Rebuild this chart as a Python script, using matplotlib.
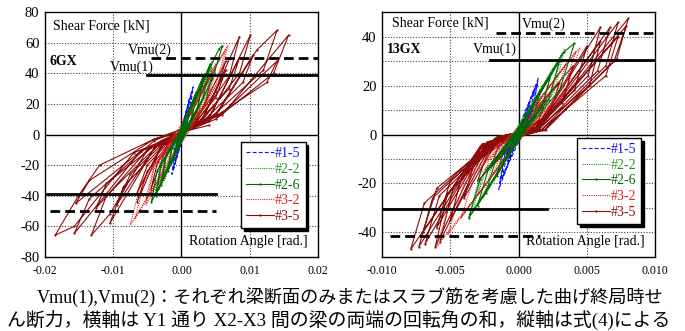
import matplotlib
matplotlib.use('Agg')
import matplotlib.pyplot as plt

# Latin text in a Times-like face, Japanese falls back to Noto CJK
plt.rcParams['font.family'] = ['Liberation Serif', 'Noto Sans CJK JP']
plt.rcParams['axes.unicode_minus'] = False

# ---------------------------------------------------------------- data
SERIES_LABELS = ['#1-5', '#2-2', '#2-6', '#3-2', '#3-5']

# 6GX: hysteresis paths, (rotation [rad], shear force [kN])
GX6_15 = [(0, 0), (0.0004, 8), (0.0002, 3), (-0.0003, -6), (-0.0001, -1),
          (0.0008, 16), (0.0005, 7), (-0.0006, -12), (-0.0003, -3),
          (0.0012, 24), (0.0008, 10), (-0.0009, -18), (-0.0006, -6),
          (0.0015, 28), (0.001, 12), (-0.0012, -23), (-0.0008, -8),
          (0.0017, 31), (0.0012, 14), (-0.0014, -26), (-0.001, -9), (0.0002, 4)]
GX6_22 = [(0, 0), (0.001, 14), (0.0006, 5), (-0.0008, -12), (-0.0004, -3),
          (0.002, 26), (0.0014, 10), (-0.0015, -20), (-0.001, -7),
          (0.003, 36), (0.0022, 16), (0.0003, 2), (-0.0025, -30), (-0.0018, -12), (-0.0003, -1),
          (0.004, 44), (0.003, 22), (0.0005, 3), (-0.0033, -36), (-0.0025, -16), (-0.0004, -1),
          (0.0045, 48), (0.0036, 26), (0.0006, 3), (-0.0038, -40), (-0.003, -20), (-0.0005, -1),
          (0.0045, 44), (0.0036, 24), (0.0006, 3), (-0.0038, -37), (-0.003, -18), (0.0002, 2)]
GX6_26 = [(0, 0), (0.0012, 16), (0.0008, 6), (-0.001, -13), (-0.0006, -4),
          (0.0022, 28), (0.0016, 12), (-0.002, -24), (-0.0014, -9),
          (0.0032, 38), (0.0024, 18), (0.0004, 2), (-0.003, -33), (-0.0022, -14), (-0.0004, -1),
          (0.0042, 46), (0.0032, 24), (0.0006, 3), (-0.0038, -40), (-0.003, -20), (-0.0006, -2),
          (0.0038, 40), (0.0055, 56), (0.006, 58), (0.0045, 36), (0.001, 4),
          (-0.0044, -44), (-0.0036, -24), (-0.0008, -2), (0.0008, 5)]
GX6_32 = [(0, 0), (0.001, 12), (0.0006, 4), (-0.001, -12), (-0.0006, -4),
          (0.002, 24), (0.0014, 9), (0.0002, 1), (-0.002, -22), (-0.0014, -8), (-0.0002, 0),
          (0.0035, 36), (0.0026, 16), (0.0005, 2), (-0.0035, -34), (-0.0026, -14), (-0.0005, -1),
          (0.005, 46), (0.0038, 24), (0.0008, 3), (-0.0052, -46), (-0.004, -22), (-0.0008, -2),
          (0.005, 42), (0.0038, 22), (0.0008, 3), (-0.0052, -42), (-0.004, -20), (-0.0008, -1),
          (0.0065, 56), (0.005, 32), (0.0012, 4), (-0.0068, -55), (-0.0054, -30), (-0.0012, -2),
          (0.0068, 58), (0.0054, 34), (0.0014, 4), (-0.0075, -59), (-0.006, -32), (-0.0014, -2),
          (0.001, 5)]
GX6_35 = [(0, 0), (0.001, 14), (0.0006, 5), (-0.0002, -1), (-0.001, -13), (-0.0006, -4), (0.0002, 2),
          (0.002, 24), (0.0014, 10), (0.0002, 0), (-0.002, -22), (-0.0014, -8), (-0.0002, 1),
          (0.003, 32), (0.0022, 14), (0.0004, 2), (-0.003, -30), (-0.0022, -12), (-0.0004, -1),
          (0.0045, 40), (0.0035, 20), (0.001, 4), (-0.002, -6), (-0.0045, -36), (-0.0035, -18),
          (-0.001, -3), (0.002, 8),
          (0.0065, 48), (0.005, 28), (0.0015, 6), (-0.003, -8), (-0.0065, -44), (-0.005, -24),
          (-0.0015, -4), (0.003, 10),
          (0.0065, 42), (0.005, 24), (0.0015, 5), (-0.003, -8), (-0.0065, -38), (-0.005, -20),
          (-0.0015, -3), (0.003, 9),
          (0.0085, 64), (0.007, 38), (0.002, 7), (-0.004, -9), (-0.0105, -58), (-0.0085, -34),
          (-0.002, -4), (0.004, 11),
          (0.0085, 50), (0.007, 30), (0.002, 6), (-0.004, -9), (-0.0095, -46), (-0.0075, -26),
          (-0.002, -3), (0.004, 10),
          (0.0101, 65), (0.0085, 40), (0.003, 9), (-0.005, -10), (-0.0105, -52), (-0.0132, -65.7),
          (-0.011, -40), (-0.003, -5), (0.005, 13),
          (0.0105, 52), (0.009, 34), (0.003, 8), (-0.005, -10), (-0.0125, -48), (-0.011, -32),
          (-0.003, -4), (0.005, 12),
          (0.011, 55), (0.014, 68), (0.012, 42), (0.004, 10), (-0.006, -11), (-0.0157, -64.6),
          (-0.0135, -42), (-0.004, -4), (0.006, 14),
          (0.014, 48), (0.0125, 34), (0.004, 9), (-0.006, -11), (-0.0155, -45), (-0.0135, -30),
          (-0.004, -3), (0.006, 13),
          (0.0157, 65), (0.0135, 40), (0.005, 10), (-0.007, -12), (-0.0157, -60), (-0.0185, -65.7),
          (-0.0151, -40), (-0.012, -20), (-0.004, -3), (0.004, 6)]

# 13GX
GX13_15 = [(0, 0), (0.0004, 6), (0.0002, 2), (-0.0004, -6), (-0.0002, -2),
           (0.0008, 12), (0.0005, 5), (-0.0008, -11), (-0.0005, -4),
           (0.0012, 19), (0.0008, 8), (0.0001, 1), (-0.0012, -18), (-0.0008, -7), (-0.0001, 0),
           (0.00145, 23), (0.001, 10), (0.0001, 1), (-0.00145, -22.5), (-0.001, -9), (-0.0001, 0),
           (0.0014, 21), (0.001, 9), (-0.0014, -20), (-0.001, -8), (0.0001, 1)]
GX13_22 = [(0, 0), (0.0006, 7), (0.0003, 2), (-0.0006, -6), (-0.0003, -2),
           (0.0012, 14), (0.0008, 5), (-0.0012, -13), (-0.0008, -5),
           (0.0018, 20), (0.0012, 8), (0.0002, 1), (-0.0018, -19), (-0.0012, -8), (-0.0002, 0),
           (0.0025, 27), (0.0018, 12), (0.0003, 1), (-0.0026, -26), (-0.0019, -12), (-0.0003, 0),
           (0.0032, 33), (0.0024, 16), (0.0004, 2), (-0.0034, -32), (-0.0026, -16), (-0.0004, 0),
           (0.0034, 35), (0.0026, 17), (0.0005, 2), (-0.0036, -33), (-0.0028, -16), (0.0002, 1)]
GX13_26 = [(0, 0), (0.0008, 10), (0.0005, 4), (-0.0008, -9), (-0.0005, -3),
           (0.0016, 18), (0.0011, 7), (0.0001, 1), (-0.0016, -17), (-0.0011, -7), (-0.0001, 0),
           (0.0024, 25), (0.0017, 11), (0.0002, 1), (-0.0024, -24), (-0.0017, -11), (-0.0002, 0),
           (0.003, 30), (0.0022, 14), (0.0003, 1), (-0.003, -29), (-0.0022, -14), (-0.0003, 0),
           (0.0033, 33.5), (0.0041, 37.3), (0.003, 18), (0.0004, 1), (-0.00365, -34.2),
           (-0.0028, -18), (-0.0004, 0), (0.0004, 2)]
GX13_32 = [(0, 0), (0.0008, 8), (0.0005, 3), (-0.0008, -8), (-0.0005, -3),
           (0.0016, 15), (0.0011, 6), (0.0001, 0), (-0.0018, -16), (-0.0012, -6), (-0.0001, 0),
           (0.0026, 22), (0.0019, 10), (0.0003, 1), (-0.003, -25), (-0.0022, -11), (-0.0003, 0),
           (0.0035, 29), (0.0026, 14), (0.0004, 1), (-0.0042, -34), (-0.0032, -16), (-0.0004, 0),
           (0.0042, 34), (0.0032, 17), (0.0005, 1), (-0.0052, -41), (-0.004, -20), (-0.0005, 0),
           (0.0045, 35.5), (0.0035, 18), (0.0006, 1), (-0.006, -45.8), (-0.0047, -22),
           (-0.0006, 0), (0.0005, 2)]
GX13_35 = [(0, 0), (0.001, 7), (0.0007, 3), (-0.001, -7), (-0.0007, -3), (0, 0),
           (0.002, 14), (0.0015, 6), (0.0003, 1), (-0.002, -13), (-0.0015, -5), (-0.0003, -0.5),
           (0.003, 21), (0.0023, 9), (0.0005, 1), (-0.003, -19), (-0.0023, -8), (-0.0005, -0.5),
           (0.004, 28), (0.0032, 13), (0.0008, 2), (-0.0015, -2), (-0.004, -26), (-0.0032, -11),
           (-0.0008, -1), (0.0012, 2),
           (0.005, 36), (0.0041, 18), (0.001, 2), (-0.0018, -2), (-0.005, -35), (-0.0041, -16),
           (-0.001, -1), (0.0013, 2),
           (0.006, 43.7), (0.0051, 24), (0.0013, 2), (-0.0022, -3), (-0.00575, -43.7), (-0.0048, -22),
           (-0.0012, -1), (0.0014, 3),
           (0.006, 38), (0.0052, 20), (0.0013, 2), (-0.0023, -3), (-0.006, -38), (-0.005, -19),
           (-0.0012, -1), (0.0014, 3),
           (0.0067, 43.7), (0.0058, 26), (0.0015, 2), (-0.0025, -4), (-0.0061, -45.8), (-0.0052, -24),
           (-0.0013, -1), (0.0015, 3),
           (0.0073, 45.8), (0.0064, 28), (0.0017, 2), (-0.0026, -4), (-0.00685, -44.7), (-0.0058, -25),
           (-0.0014, -1), (0.0015, 3),
           (0.0073, 40), (0.0064, 24), (0.0017, 2), (-0.0027, -4), (-0.007, -40), (-0.006, -22),
           (-0.0014, -1), (0.0015, 3),
           (0.0079, 44.4), (0.007, 30), (0.0019, 2), (-0.0027, -5), (-0.0073, -45.8), (-0.0063, -26),
           (-0.0015, -1), (0.0015, 3),
           (0.00805, 47.4), (0.0072, 31), (0.002, 2), (-0.0028, -5), (-0.0079, -46.9), (-0.0069, -28),
           (-0.0016, -1), (0.0012, 2)]

# Vmu(1) solid / Vmu(2) dashed: level [kN], (x from, x to) for +/- lines
GX6_VMU1 = 39
GX6_VMU1_SPAN = [(-0.005, 0.02), (-0.02, 0.005)]
GX6_VMU2 = 50
GX6_VMU2_SPAN = [(-0.0044, 0.02), (-0.0193, 0.0051)]
GX13_VMU1 = 30.5
GX13_VMU1_SPAN = [(-0.0021, 0.01), (-0.01, 0.00206)]
GX13_VMU2 = 41.3
GX13_VMU2_SPAN = [(-0.00165, 0.01), (-0.0094, 0.00157)]

GX6_XTICKS = [-0.02, -0.01, 0.00, 0.01, 0.02]
GX6_XTICKLABELS = ['-0.02', '-0.01', '0.00', '0.01', '0.02']
GX6_YTICKS = [-80, -60, -40, -20, 0, 20, 40, 60, 80]
GX13_XTICKS = [-0.010, -0.005, 0.000, 0.005, 0.010]
GX13_XTICKLABELS = ['-0.010', '-0.005', '0.000', '0.005', '0.010']
GX13_YTICKS = [-40, -20, 0, 20, 40]
GX13_YGRID = [-40, -30, -20, -10, 10, 20, 30, 40]

CAPTION_1 = 'Vmu(1),Vmu(2)：それぞれ梁断面のみまたはスラブ筋を考慮した曲げ終局時せ'
CAPTION_2 = 'ん断力，横軸は Y1 通り X2-X3 間の梁の両端の回転角の和，縦軸は式(4)による'

# ---------------------------------------------------------------- style
COLORS = ['#1010ff', '#1f9a1f', '#006a00', '#e02020', '#8c0c0c']
LINESTYLES = [(0, (3.5, 2)), (0, (1, 1)), '-', (0, (1, 1)), '-']
MARKERS = ['', '', '.', '', '.']
ZORDERS = [3.2, 3.4, 3.6, 3.0, 2.8]


def draw_panel(ax, paths, vmu1, vmu1_span, vmu2, vmu2_span, xlim, ylim,
               xticks, xticklabels, yticks, ygrid, xgrid, name, text_pos, legend_anchor):
    """Draws one hysteresis panel with its Vmu levels and legend."""
    for path, label, color, ls, mk, z in zip(paths, SERIES_LABELS, COLORS, LINESTYLES, MARKERS, ZORDERS):
        xs = [p[0] for p in path]
        ys = [p[1] for p in path]
        ax.plot(xs, ys, color=color, linestyle=ls, linewidth=0.8, marker=mk, markersize=1.2,
                label=label, zorder=z)

    # Vmu levels (positive and negative)
    for sign, span in zip([1, -1], vmu1_span):
        ax.plot(span, [sign * vmu1, sign * vmu1], color='black', linewidth=2.0, zorder=6)
    for sign, span in zip([1, -1], vmu2_span):
        ax.plot(span, [sign * vmu2, sign * vmu2], color='black', linewidth=2.0,
                dashes=(3.5, 1.8), zorder=6)

    # grid and zero axes
    for gx in xgrid:
        ax.axvline(gx, color='#444444', linestyle=(0, (1, 1.5)), linewidth=0.8, zorder=1)
    for gy in ygrid:
        ax.axhline(gy, color='#444444', linestyle=(0, (1, 1.5)), linewidth=0.8, zorder=1)
    ax.axvline(0, color='black', linewidth=1.0, zorder=1.5)
    ax.axhline(0, color='black', linewidth=1.0, zorder=1.5)

    ax.set_xlim(xlim)
    ax.set_ylim(ylim)
    ax.set_xticks(xticks)
    ax.set_xticklabels(xticklabels)
    ax.set_yticks(yticks)
    ax.tick_params(axis='both', length=0)
    ax.tick_params(axis='x', labelsize=8.5, pad=6)
    ax.tick_params(axis='y', labelsize=10.5, pad=4)
    for spine in ax.spines.values():
        spine.set_linewidth(1.0)

    ax.text(text_pos['sf'][0], text_pos['sf'][1], 'Shear Force [kN]', transform=ax.transAxes,
            fontsize=10, va='center', ha='left')
    ax.text(text_pos['name'][0], text_pos['name'][1], name, transform=ax.transAxes,
            fontsize=10, fontweight='bold', va='center', ha='left')
    ax.text(text_pos['v2'][0], text_pos['v2'][1], 'Vmu(2)', transform=ax.transAxes,
            fontsize=10, va='center', ha='left')
    ax.text(text_pos['v1'][0], text_pos['v1'][1], 'Vmu(1)', transform=ax.transAxes,
            fontsize=10, va='center', ha='left')
    ax.text(0.963, 0.065, 'Rotation Angle [rad.]', transform=ax.transAxes,
            fontsize=10, va='center', ha='right')

    leg = ax.legend(loc='upper left', bbox_to_anchor=legend_anchor, fontsize=10,
                    frameon=True, fancybox=False, edgecolor='black', framealpha=1,
                    shadow={'color': 'black', 'alpha': 1}, labelcolor='linecolor',
                    handlelength=2.0, handletextpad=0.1, labelspacing=0.2,
                    borderpad=0.35, borderaxespad=0)
    leg.get_frame().set_linewidth(1.0)
    leg.set_zorder(10)


fig = plt.figure(figsize=(6.85, 3.31), dpi=100)
ax1 = fig.add_axes([0.0657, 0.2236, 0.3985, 0.7401])
ax2 = fig.add_axes([0.5577, 0.2236, 0.3985, 0.7401])

draw_panel(ax1, [GX6_15, GX6_22, GX6_26, GX6_32, GX6_35],
           GX6_VMU1, GX6_VMU1_SPAN, GX6_VMU2, GX6_VMU2_SPAN,
           (-0.02, 0.02), (-80, 80), GX6_XTICKS, GX6_XTICKLABELS, GX6_YTICKS,
           [-60, -40, -20, 20, 40, 60], [-0.01, 0.01], '6GX',
           {'sf': (0.029, 0.943), 'name': (0.018, 0.80), 'v2': (0.304, 0.845), 'v1': (0.238, 0.776)},
           (0.718, 0.469))
draw_panel(ax2, [GX13_15, GX13_22, GX13_26, GX13_32, GX13_35],
           GX13_VMU1, GX13_VMU1_SPAN, GX13_VMU2, GX13_VMU2_SPAN,
           (-0.01, 0.01), (-50, 50), GX13_XTICKS, GX13_XTICKLABELS, GX13_YTICKS,
           GX13_YGRID, [-0.005, 0.005], '13GX',
           {'sf': (0.037, 0.955), 'name': (0.018, 0.849), 'v2': (0.513, 0.951), 'v1': (0.333, 0.849)},
           (0.714, 0.486))

# caption
fig.text(37 / 685, 1 - 297 / 331, CAPTION_1, fontsize=13.1, va='center', ha='left')
fig.text(7 / 685, 1 - 320 / 331, CAPTION_2, fontsize=13.6, va='center', ha='left')

fig.savefig('out.png', dpi=100)
